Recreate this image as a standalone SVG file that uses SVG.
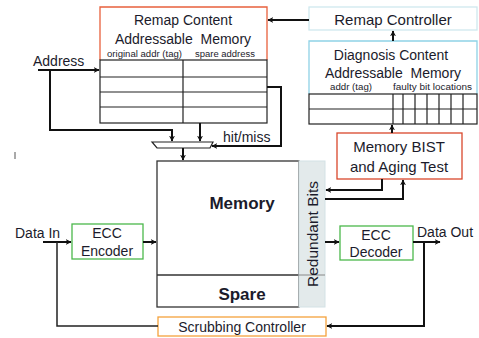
<svg xmlns="http://www.w3.org/2000/svg" width="479" height="338" viewBox="0 0 479 338">
<defs>
<marker id="ah" viewBox="0 0 10 10" refX="9" refY="5" markerWidth="6" markerHeight="6" orient="auto" markerUnits="userSpaceOnUse">
<path d="M0,0 L10,5 L0,10 L3,5 z" fill="#111"/>
</marker>
<style>
text{font-family:"Liberation Sans",Arial,sans-serif;fill:#1b1b2b}
.t{font-size:14px}
.m{font-size:15px}
.s{font-size:8.5px}
.g{fill:none;stroke:#222;stroke-width:1.2}
.c{fill:none;stroke:#222;stroke-width:1.5}
.a{fill:none;stroke:#111;stroke-width:2;marker-end:url(#ah)}
</style>
</defs>
<rect width="479" height="338" fill="#fff"/>

<g id="remap-cam">
<path d="M100,60 V7 H267 V60" fill="none" stroke="#e8603c" stroke-width="1.3"/>
<rect x="100" y="60" width="167" height="63" class="g"/>
<path d="M100,77 H267 M100,92 H267 M100,107 H267 M183,60 V123" class="g"/>
<text class="t" x="183" y="25" text-anchor="middle">Remap Content</text>
<text class="t" x="183" y="44" text-anchor="middle" xml:space="preserve">Addressable  Memory</text>
<text class="s" x="107" y="57" textLength="75" lengthAdjust="spacingAndGlyphs">original addr (tag)</text>
<text class="s" x="195" y="57" textLength="60" lengthAdjust="spacingAndGlyphs">spare address</text>
</g>

<g id="remap-controller">
<rect x="309" y="7" width="168" height="23" fill="#fff" stroke="#cfe9ee" stroke-width="1.3"/>
<text class="m" x="393" y="25" text-anchor="middle">Remap Controller</text>
</g>

<g id="diagnosis-cam">
<path d="M309,94 V41 H477 V94" fill="none" stroke="#8fd2e6" stroke-width="1.3"/>
<rect x="309" y="94" width="168" height="30" class="g"/>
<path d="M309,109 H477 M393,94 V124 M403,94 V124 M415,94 V124 M427,94 V124 M439,94 V124 M451,94 V124 M463,94 V124" class="g"/>
<text class="t" x="391" y="60" text-anchor="middle">Diagnosis Content</text>
<text class="t" x="393" y="78" text-anchor="middle" xml:space="preserve">Addressable  Memory</text>
<text class="s" x="330" y="90" textLength="42" lengthAdjust="spacingAndGlyphs">addr (tag)</text>
<text class="s" x="393" y="90" textLength="79" lengthAdjust="spacingAndGlyphs">faulty bit locations</text>
</g>

<g id="bist">
<rect x="337" y="133" width="125" height="46" fill="#fff" stroke="#d9472c" stroke-width="1.3"/>
<text class="m" x="399" y="152" text-anchor="middle">Memory BIST</text>
<text class="m" x="399" y="172" text-anchor="middle">and Aging Test</text>
</g>

<g id="mux">
<path d="M152,142 H213 L210,148 H157 Z" fill="#fff" stroke="#222" stroke-width="1.2"/>
</g>

<g id="memory">
<rect x="157" y="161" width="142" height="146" fill="#fff" stroke="#333" stroke-width="1.3"/>
<line x1="157" y1="275" x2="299" y2="275" stroke="#333" stroke-width="1.3"/>
<text x="242" y="209" text-anchor="middle" style="font-size:17px;font-weight:bold">Memory</text>
<text x="242" y="300" text-anchor="middle" style="font-size:17px;font-weight:bold">Spare</text>
</g>

<g id="redundant-bits">
<rect x="299" y="161" width="26" height="146" fill="#e3eaeb" stroke="#d3e2e5" stroke-width="1"/>
<line x1="299" y1="275" x2="325" y2="275" stroke="#888" stroke-width="1"/>
<text x="318" y="234" text-anchor="middle" transform="rotate(-90 318 234)" style="font-size:15.5px">Redundant Bits</text>
</g>

<g id="ecc-encoder">
<rect x="72" y="224" width="71" height="35" fill="#fff" stroke="#4cb84c" stroke-width="1.3"/>
<text class="t" x="107" y="238" text-anchor="middle">ECC</text>
<text class="t" x="107" y="256" text-anchor="middle">Encoder</text>
</g>

<g id="ecc-decoder">
<rect x="340" y="226" width="73" height="34" fill="#fff" stroke="#4cb84c" stroke-width="1.3"/>
<text class="t" x="376" y="240" text-anchor="middle">ECC</text>
<text class="t" x="376" y="257" text-anchor="middle">Decoder</text>
</g>

<g id="scrubbing-controller">
<rect x="158" y="317" width="168" height="19" fill="#fff" stroke="#f5a23c" stroke-width="1.3"/>
<text class="t" x="242" y="332" text-anchor="middle">Scrubbing Controller</text>
</g>

<g id="labels">
<text class="t" x="33" y="66">Address</text>
<text class="t" x="223" y="142">hit/miss</text>
<text class="t" x="15" y="238">Data In</text>
<text class="t" x="417" y="237">Data Out</text>
<line x1="15" y1="152" x2="15" y2="159" stroke="#555" stroke-width="1"/>
</g>

<g id="connectors">
<path d="M38,70 H99" class="a"/>
<path d="M50,70 V130 H172 V141" class="a"/>
<path d="M200,123 V141" class="a"/>
<path d="M267,87 H281 V146 H212" class="a"/>
<path d="M183,148 V160" class="a"/>
<path d="M309,20 H268" class="a"/>
<path d="M393,41 V31" class="a"/>
<path d="M392,133 V125" class="a"/>
<path d="M382,179 V190 H326" class="a"/>
<path d="M325,199 H403 V180" class="a"/>
<path d="M43,242 H71" class="a"/>
<path d="M143,242 H156" class="a"/>
<path d="M325,242 H339" class="a"/>
<path d="M413,242 H440" class="a"/>
<path d="M57,242 V326 H158" class="c"/>
<path d="M424,242 V326 H327" class="a"/>
</g>
</svg>
